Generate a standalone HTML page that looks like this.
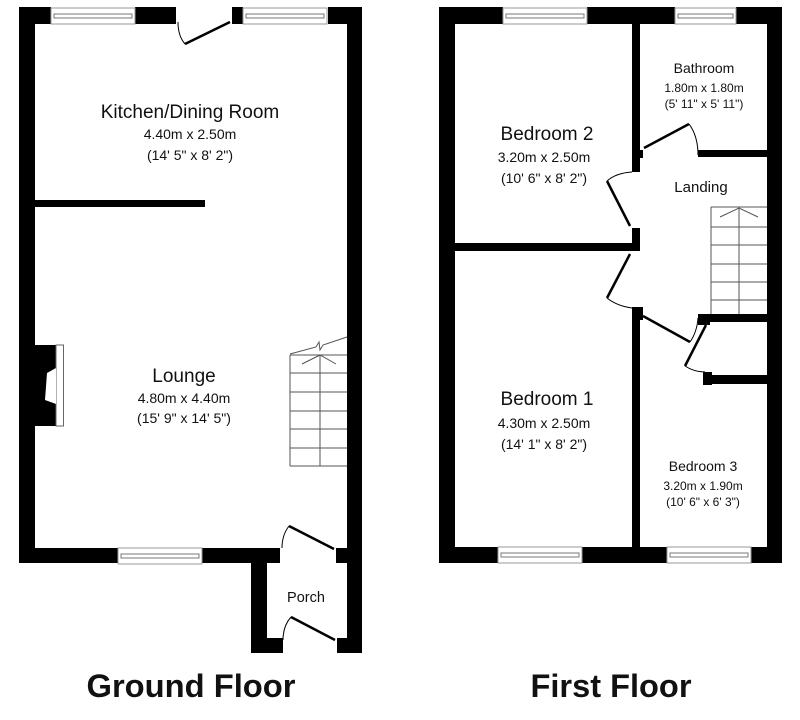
<!DOCTYPE html>
<html><head><meta charset="utf-8"><style>
html,body{margin:0;padding:0;background:#fff;}
svg{display:block;}
text{font-family:"Liberation Sans",Arial,sans-serif;fill:#111;}
</style></head><body>
<svg width="800" height="720" viewBox="0 0 800 720" xmlns="http://www.w3.org/2000/svg">
<defs>
<g id="win"><rect x="0" y="0" width="84" height="16" fill="#fff" stroke="#999" stroke-width="1"/><rect x="3" y="6" width="78" height="4" fill="#fff" stroke="#777" stroke-width="1"/></g>
</defs>
<!-- GROUND FLOOR -->
<g fill="#000">
<rect x="19" y="7" width="16" height="556"/>
<rect x="347" y="7" width="15" height="646"/>
<rect x="19" y="7" width="32" height="17"/>
<rect x="135" y="7" width="41" height="17"/>
<rect x="232" y="7" width="11" height="17"/>
<rect x="328" y="7" width="34" height="17"/>
<rect x="19" y="548" width="261" height="15"/>
<rect x="336" y="548" width="26" height="15"/>
<rect x="251" y="548" width="16" height="105"/>
<rect x="251" y="638" width="32" height="15"/>
<rect x="337" y="638" width="25" height="15"/>
<rect x="35" y="200" width="170" height="7"/>
<!-- fireplace -->
<rect x="35" y="345" width="21" height="81"/>
</g>
<rect x="56" y="345" width="7.5" height="81" fill="#fff" stroke="#666" stroke-width="1"/>
<polygon points="47,373 56,368 56,404 45,400" fill="#fff"/>
<use href="#win" x="51" y="8"/>
<use href="#win" x="243" y="8"/>
<use href="#win" x="118" y="548"/>
<!-- doors GF -->
<g stroke="#000" fill="none">
<line x1="230" y1="22" x2="185" y2="44" stroke-width="2.5"/>
<path d="M178,22 Q178,36 185,44" stroke-width="1"/>
<line x1="289" y1="526" x2="334" y2="549" stroke-width="2.5"/>
<path d="M289,526 Q282,535 282,548" stroke-width="1"/>
<line x1="291" y1="617" x2="335" y2="640" stroke-width="2.5"/>
<path d="M291,617 Q283,626 283,640" stroke-width="1"/>
</g>
<!-- stairs GF -->
<g stroke="#555" stroke-width="1" fill="none">
<line x1="290" y1="355" x2="347" y2="355"/>
<line x1="290" y1="373" x2="347" y2="373"/>
<line x1="290" y1="392" x2="347" y2="392"/>
<line x1="290" y1="411" x2="347" y2="411"/>
<line x1="290" y1="429" x2="347" y2="429"/>
<line x1="290" y1="448" x2="347" y2="448"/>
<line x1="290" y1="466" x2="347" y2="466"/>
<line x1="290" y1="355" x2="290" y2="466"/>
<line x1="320" y1="355" x2="320" y2="466"/>
<path d="M290,354 L316,347 L319,342 L320,350 L323,345 L347,337"/>
<path d="M302,364 L320,355 L336,364"/>
</g>
<text x="190" y="118" font-size="19" text-anchor="middle">Kitchen/Dining Room</text>
<text x="190" y="139" font-size="14" text-anchor="middle">4.40m x 2.50m</text>
<text x="190" y="160" font-size="14" text-anchor="middle">(14' 5" x 8' 2")</text>
<text x="184" y="382" font-size="19" text-anchor="middle">Lounge</text>
<text x="184" y="403" font-size="14" text-anchor="middle">4.80m x 4.40m</text>
<text x="184" y="423" font-size="14" text-anchor="middle">(15' 9" x 14' 5")</text>
<text x="306" y="602" font-size="14.5" text-anchor="middle">Porch</text>
<!-- FIRST FLOOR -->
<g fill="#000">
<rect x="439" y="7" width="16" height="556"/>
<rect x="767" y="7" width="15" height="556"/>
<rect x="439" y="7" width="64" height="17"/>
<rect x="587" y="7" width="88" height="17"/>
<rect x="736" y="7" width="46" height="17"/>
<rect x="439" y="547" width="59" height="16"/>
<rect x="582" y="547" width="85" height="16"/>
<rect x="750" y="547" width="32" height="16"/>
<rect x="632" y="24" width="8" height="148"/>
<rect x="632" y="150" width="11" height="8"/>
<rect x="632" y="228" width="8" height="22"/>
<rect x="455" y="243" width="185" height="8"/>
<rect x="698" y="150" width="69" height="7"/>
<rect x="632" y="307" width="8" height="240"/>
<rect x="632" y="307" width="11" height="13"/>
<rect x="698" y="314" width="69" height="8"/>
<rect x="698" y="314" width="12" height="11"/>
<rect x="703" y="375" width="64" height="9"/>
<rect x="703" y="372" width="9" height="13"/>
</g>
<use href="#win" x="503" y="8"/>
<rect x="675" y="8" width="61" height="16" fill="#fff" stroke="#999"/><rect x="678" y="14" width="55" height="4" fill="#fff" stroke="#777"/>
<use href="#win" x="498" y="547"/>
<use href="#win" x="667" y="547"/>
<!-- doors FF -->
<g stroke="#000" fill="none">
<line x1="644" y1="148" x2="689" y2="124" stroke-width="2.5"/>
<path d="M689,124 Q698,136 698,155" stroke-width="1"/>
<line x1="630" y1="226" x2="607" y2="181" stroke-width="2.5"/>
<path d="M607,181 Q616,173 632,172" stroke-width="1"/>
<line x1="630" y1="254" x2="607" y2="298" stroke-width="2.5"/>
<path d="M607,298 Q617,306 632,308" stroke-width="1"/>
<line x1="643" y1="316" x2="690" y2="342" stroke-width="2.5"/>
<path d="M690,342 Q697,332 698,318" stroke-width="1"/>
<line x1="706" y1="325" x2="685" y2="366" stroke-width="2.5"/>
<path d="M685,366 Q694,372 705,372" stroke-width="1"/>
</g>
<!-- stairs FF -->
<g stroke="#555" stroke-width="1" fill="none">
<line x1="711" y1="207" x2="767" y2="207"/>
<line x1="711" y1="227" x2="767" y2="227"/>
<line x1="711" y1="245" x2="767" y2="245"/>
<line x1="711" y1="264" x2="767" y2="264"/>
<line x1="711" y1="282" x2="767" y2="282"/>
<line x1="711" y1="300" x2="767" y2="300"/>
<line x1="711" y1="207" x2="711" y2="314"/>
<line x1="739" y1="207" x2="739" y2="314"/>
<path d="M720,217 L739,208 L758,217"/>
</g>
<text x="547" y="140" font-size="19" text-anchor="middle">Bedroom 2</text>
<text x="544" y="162" font-size="14" text-anchor="middle">3.20m x 2.50m</text>
<text x="544" y="183" font-size="14" text-anchor="middle">(10' 6" x 8' 2")</text>
<text x="704" y="73" font-size="14" text-anchor="middle">Bathroom</text>
<text x="704" y="92" font-size="12" text-anchor="middle">1.80m x 1.80m</text>
<text x="704" y="108" font-size="12" text-anchor="middle">(5' 11" x 5' 11")</text>
<text x="701" y="192" font-size="15" text-anchor="middle">Landing</text>
<text x="547" y="405" font-size="19" text-anchor="middle">Bedroom 1</text>
<text x="544" y="428" font-size="14" text-anchor="middle">4.30m x 2.50m</text>
<text x="544" y="449" font-size="14" text-anchor="middle">(14' 1" x 8' 2")</text>
<text x="703" y="471" font-size="14" text-anchor="middle">Bedroom 3</text>
<text x="703" y="490" font-size="12" text-anchor="middle">3.20m x 1.90m</text>
<text x="703" y="506" font-size="12" text-anchor="middle">(10' 6" x 6' 3")</text>
<!-- titles -->
<text x="191" y="697" font-size="32" font-weight="bold" text-anchor="middle" textLength="209" lengthAdjust="spacingAndGlyphs">Ground Floor</text>
<text x="611" y="697" font-size="32" font-weight="bold" text-anchor="middle" textLength="161" lengthAdjust="spacingAndGlyphs">First Floor</text>
</svg>
</body></html>
